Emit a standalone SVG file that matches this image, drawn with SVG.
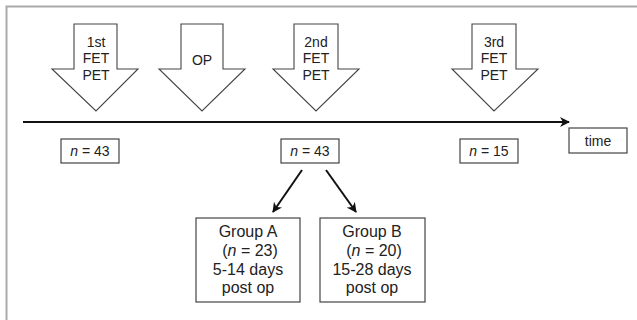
<svg xmlns="http://www.w3.org/2000/svg" width="637" height="320" viewBox="0 0 637 320">
<defs>
<style>
.blk{fill:#fff;stroke:#444;stroke-width:1.1}
.box{fill:#fff;stroke:#444;stroke-width:1.2}
.t{font-family:"Liberation Sans",Arial,sans-serif;font-size:14px;fill:#222;text-anchor:middle}
.g{font-family:"Liberation Sans",Arial,sans-serif;font-size:16px;fill:#222;text-anchor:middle}
.ln{stroke:#111;stroke-width:2;fill:none}
</style>
<marker id="ah" viewBox="0 0 10 10" refX="9" refY="5" markerWidth="5" markerHeight="5" orient="auto" markerUnits="strokeWidth">
<path d="M0,0 L10,5 L0,10 L3,5 Z" fill="#111"/>
</marker>
</defs>
<rect width="637" height="320" fill="#fff"/>
<path d="M6.5,320 V6.5 H637" fill="none" stroke="#aaa" stroke-width="2"/>
<g id="arrow1">
<polygon class="blk" points="74,24 117,24 117,69 138,69 96,111 52,69 74,69"/>
<text class="t" x="96" y="47">1st</text>
<text class="t" x="96" y="63">FET</text>
<text class="t" x="96" y="80">PET</text>
</g>
<g id="arrowOP">
<polygon class="blk" points="181,24 223,24 223,69 245,69 202,111 159,69 181,69"/>
<text class="t" x="202" y="65">OP</text>
</g>
<g id="arrow2">
<polygon class="blk" points="294,24 338,24 338,69 359,69 316,111 273,69 294,69"/>
<text class="t" x="316" y="47">2nd</text>
<text class="t" x="316" y="63">FET</text>
<text class="t" x="316" y="80">PET</text>
</g>
<g id="arrow3">
<polygon class="blk" points="472,24 516,24 516,69 538,69 494,111 452,69 472,69"/>
<text class="t" x="494" y="47">3rd</text>
<text class="t" x="494" y="63">FET</text>
<text class="t" x="494" y="80">PET</text>
</g>
<g id="n1">
<rect class="box" x="61" y="139" width="58" height="24"/>
<text class="t" x="90" y="156"><tspan font-style="italic">n</tspan> = 43</text>
</g>
<g id="n2">
<rect class="box" x="281" y="139" width="58" height="24"/>
<text class="t" x="310" y="156"><tspan font-style="italic">n</tspan> = 43</text>
</g>
<g id="n3">
<rect class="box" x="460" y="139" width="58" height="24"/>
<text class="t" x="489" y="156"><tspan font-style="italic">n</tspan> = 15</text>
</g>
<g id="time">
<rect class="box" x="569" y="128" width="58" height="25"/>
<text class="t" x="598" y="146" font-size="16">time</text>
</g>
<g id="groupA">
<rect class="box" x="196" y="218" width="104" height="84"/>
<text class="g" x="248" y="237">Group A</text>
<text class="g" x="250" y="256">(<tspan font-style="italic">n</tspan> = 23)</text>
<text class="g" x="248" y="275">5-14 days</text>
<text class="g" x="248" y="293">post op</text>
</g>
<g id="groupB">
<rect class="box" x="320" y="218" width="105" height="84"/>
<text class="g" x="372" y="237">Group B</text>
<text class="g" x="374" y="256">(<tspan font-style="italic">n</tspan> = 20)</text>
<text class="g" x="372" y="275">15-28 days</text>
<text class="g" x="372" y="293">post op</text>
</g>
<g id="connectors">
<line class="ln" x1="23" y1="122" x2="569" y2="122" marker-end="url(#ah)"/>
<line class="ln" x1="302" y1="170" x2="273" y2="212" marker-end="url(#ah)" stroke-width="1.8"/>
<line class="ln" x1="326" y1="170" x2="356" y2="212" marker-end="url(#ah)" stroke-width="1.8"/>
</g>
</svg>
